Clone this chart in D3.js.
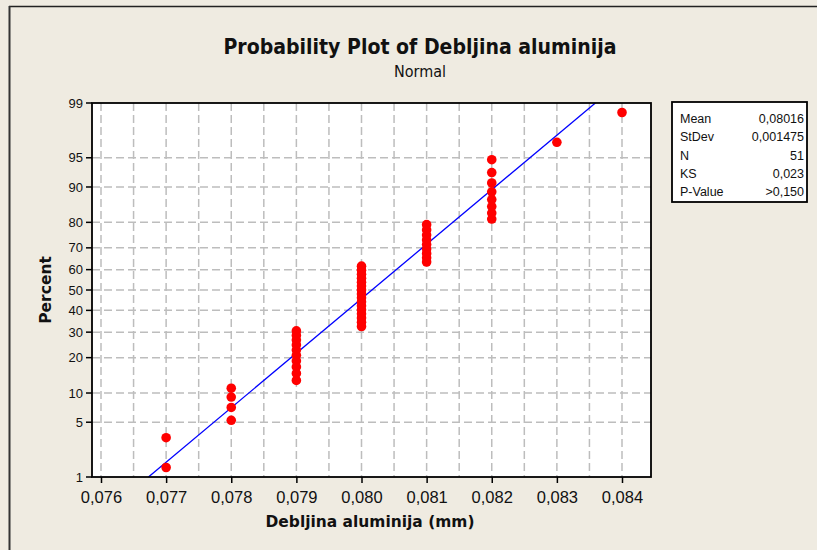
<!DOCTYPE html>
<html>
<head>
<meta charset="utf-8">
<script src="https://cdn.jsdelivr.net/npm/d3@7"></script>
<style>
  html, body { margin: 0; padding: 0; background: #EFEBE1; }
  svg { display: block; }
</style>
</head>
<body>
<svg id="chart" width="817" height="550"></svg>
<script>
// ---- data ----
const title = "Probability Plot of Debljina aluminija";
const subtitle = "Normal";
const xLabel = "Debljina aluminija (mm)";
const yLabel = "Percent";
// observed thickness values (mm), and how many of the 51 samples have each value
const values = [0.077, 0.078, 0.079, 0.080, 0.081, 0.082, 0.083, 0.084];
const counts = [2, 4, 10, 16, 9, 8, 1, 1];
const xTicks = [0.076, 0.077, 0.078, 0.079, 0.080, 0.081, 0.082, 0.083, 0.084];
const yTicks = [1, 5, 10, 20, 30, 40, 50, 60, 70, 80, 90, 95, 99];
const statLabels = ["Mean", "StDev", "N", "KS", "P-Value"];
const statValues = ["0,08016", "0,001475", "51", "0,023", ">0,150"];
const fitMean = 0.08016;
const fitSd = 0.001475;

// ---- helpers ----
function probit(p) { // inverse standard normal CDF (Acklam)
  const a = [-3.969683028665376e+01, 2.209460984245205e+02, -2.759285104469687e+02, 1.383577518672690e+02, -3.066479806614716e+01, 2.506628277459239e+00];
  const b = [-5.447609879822406e+01, 1.615858368580409e+02, -1.556989798598866e+02, 6.680131188771972e+01, -1.328068155288572e+01];
  const c = [-7.784894002430293e-03, -3.223964580411365e-01, -2.400758277161838e+00, -2.549732539343734e+00, 4.374664141464968e+00, 2.938163982698783e+00];
  const d = [7.784695709041462e-03, 3.224671290700398e-01, 2.445134137142996e+00, 3.754408661907416e+00];
  const pl = 0.02425;
  let q, r;
  if (p < pl) { q = Math.sqrt(-2 * Math.log(p)); return (((((c[0]*q+c[1])*q+c[2])*q+c[3])*q+c[4])*q+c[5]) / ((((d[0]*q+d[1])*q+d[2])*q+d[3])*q+1); }
  if (p > 1 - pl) { q = Math.sqrt(-2 * Math.log(1 - p)); return -(((((c[0]*q+c[1])*q+c[2])*q+c[3])*q+c[4])*q+c[5]) / ((((d[0]*q+d[1])*q+d[2])*q+d[3])*q+1); }
  q = p - 0.5; r = q * q;
  return (((((a[0]*r+a[1])*r+a[2])*r+a[3])*r+a[4])*r+a[5])*q / (((((b[0]*r+b[1])*r+b[2])*r+b[3])*r+b[4])*r+1);
}
const fmt = d => d3.format(".3f")(d).replace(".", ",");

// observations expanded, with median-rank plotting positions
const obs = [];
values.forEach((v, k) => { for (let j = 0; j < counts[k]; j++) obs.push(v); });
const n = obs.length;
const points = obs.map((v, i) => ({ x: v, p: (i + 1 - 0.3) / (n + 0.4) * 100 }));

// ---- layout ----
const svg = d3.select("#chart");
const L = 92, R = 651, T = 103, B = 477;
const sans = "Liberation Sans, Arial, sans-serif";
const cond = "DejaVu Sans Condensed, DejaVu Sans, sans-serif";

svg.append("rect").attr("x", 0).attr("y", 0).attr("width", 817).attr("height", 550).attr("fill", "#EFEBE1");
// outer frame (top & left)
svg.append("line").attr("x1", 9).attr("x2", 817).attr("y1", 6.5).attr("y2", 6.5).attr("stroke", "#222").attr("stroke-width", 1.5);
svg.append("line").attr("x1", 9.5).attr("x2", 9.5).attr("y1", 6).attr("y2", 550).attr("stroke", "#333").attr("stroke-width", 2);

const x = d3.scaleLinear().domain([0.076, 0.084]).range([101, 622]);
const zScale = d3.scaleLinear().domain([probit(0.01), probit(0.99)]).range([B, T]);
const y = p => zScale(probit(p / 100));

svg.append("rect").attr("x", L).attr("y", T).attr("width", R - L).attr("height", B - T).attr("fill", "#fff");

const grid = svg.append("g").attr("stroke", "#bdbdbd").attr("stroke-width", 1.5).attr("stroke-dasharray", "8,4").attr("fill", "none");
const xGrid = d3.range(0, 17).map(i => 0.076 + i * 0.0005).filter(v => x(v) > L + 1 && x(v) < R - 1);
xGrid.forEach(v => grid.append("line").attr("x1", x(v)).attr("x2", x(v)).attr("y1", T).attr("y2", B));
yTicks.filter(t => t > 1 && t < 99).forEach(t => grid.append("line").attr("x1", L).attr("x2", R).attr("y1", y(t)).attr("y2", y(t)));

// fitted line
const fitLine = [0.01, 0.99].map(q => ({ x: fitMean + probit(q) * fitSd, p: q * 100 }));
svg.append("line")
  .attr("x1", x(fitLine[0].x)).attr("y1", y(fitLine[0].p))
  .attr("x2", x(fitLine[1].x)).attr("y2", y(fitLine[1].p))
  .attr("stroke", "#0000ff").attr("stroke-width", 1.3);

// points
svg.append("g").selectAll("circle").data(points).join("circle")
  .attr("cx", d => x(d.x)).attr("cy", d => y(d.p)).attr("r", 4.8).attr("fill", "#ff0000");

// frame
svg.append("rect").attr("x", L).attr("y", T).attr("width", R - L).attr("height", B - T)
  .attr("fill", "none").attr("stroke", "#000").attr("stroke-width", 1.8);

// axes
const xAxis = d3.axisBottom(x).tickValues(xTicks).tickFormat(fmt).tickSize(6).tickSizeOuter(0);
const gx = svg.append("g").attr("transform", `translate(0,${B})`).call(xAxis);
gx.select(".domain").remove();
gx.selectAll("line").attr("stroke", "#000").attr("stroke-width", 1.5);
gx.selectAll("text").attr("font-family", sans).attr("font-size", 16.5).attr("fill", "#111").attr("dy", "1.0em");

const gy = svg.append("g").attr("transform", `translate(${L},0)`);
yTicks.forEach(t => {
  gy.append("line").attr("x1", -6).attr("x2", 0).attr("y1", y(t)).attr("y2", y(t)).attr("stroke", "#000").attr("stroke-width", 1.5);
  gy.append("text").attr("x", -9).attr("y", y(t)).attr("dy", "0.35em").attr("text-anchor", "end")
    .attr("font-family", sans).attr("font-size", 13).attr("fill", "#111").text(t);
});

// titles
svg.append("text").attr("x", 420).attr("y", 54).attr("text-anchor", "middle")
  .attr("font-family", cond).attr("font-weight", "bold").attr("font-size", 21)
  .attr("textLength", 393).attr("lengthAdjust", "spacingAndGlyphs")
  .attr("fill", "#111").text(title);
svg.append("text").attr("x", 420).attr("y", 76.5).attr("text-anchor", "middle")
  .attr("font-family", cond).attr("font-size", 16.5)
  .attr("textLength", 52).attr("lengthAdjust", "spacingAndGlyphs")
  .attr("fill", "#111").text(subtitle);
svg.append("text").attr("x", 370).attr("y", 527).attr("text-anchor", "middle")
  .attr("font-family", "DejaVu Sans, sans-serif").attr("font-weight", "bold").attr("font-size", 15.5)
  .attr("textLength", 209).attr("lengthAdjust", "spacingAndGlyphs")
  .attr("fill", "#111").text(xLabel);
svg.append("text").attr("transform", `translate(51,290) rotate(-90)`).attr("text-anchor", "middle")
  .attr("font-family", "DejaVu Sans, sans-serif").attr("font-weight", "bold").attr("font-size", 15.5).attr("fill", "#111").text(yLabel);

// stats box
const bx = 672, by = 102, bw = 135, bh = 100;
svg.append("rect").attr("x", bx).attr("y", by).attr("width", bw).attr("height", bh)
  .attr("fill", "#fff").attr("stroke", "#000").attr("stroke-width", 1.8);
const rowY = d3.scalePoint().domain(statLabels).range([118.5, 192]);
statLabels.forEach((lab, i) => {
  svg.append("text").attr("x", bx + 8).attr("y", rowY(lab)).attr("dy", "0.35em")
    .attr("font-family", sans).attr("font-size", 12.5).attr("fill", "#111").text(lab);
  svg.append("text").attr("x", bx + bw - 3).attr("y", rowY(lab)).attr("dy", "0.35em").attr("text-anchor", "end")
    .attr("font-family", sans).attr("font-size", 12.5).attr("fill", "#111").text(statValues[i]);
});
</script>
</body>
</html>
